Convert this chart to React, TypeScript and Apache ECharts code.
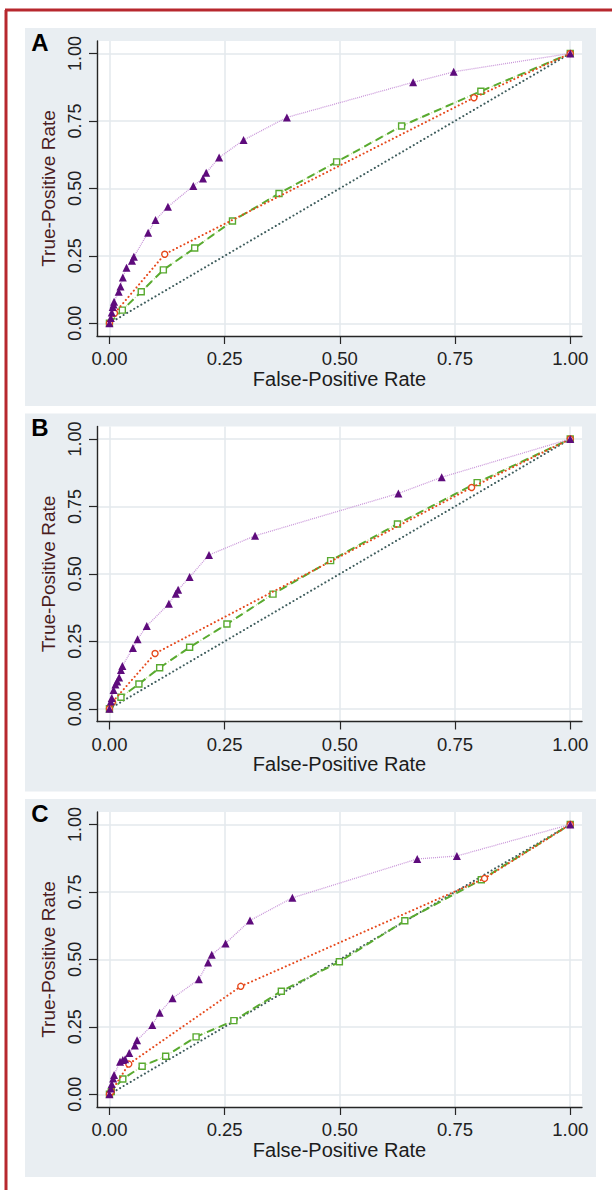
import React, { useEffect, useRef } from "react";
import * as echarts from "echarts";

// ---------- data ----------
const TICKS = [0, 0.25, 0.5, 0.75, 1];
const PANEL_LETTERS = ["A", "B", "C"];
const X_TITLE = "False-Positive Rate";
const Y_TITLE = "True-Positive Rate";
const DIAGONAL = [[0, 0], [1, 1]];

const A_PURPLE = [[0,0],[0.003,0.02],[0.005,0.04],[0.007,0.06],[0.009,0.07],[0.01,0.08],[0.02,0.117],[0.024,0.136],[0.029,0.17],[0.037,0.206],[0.049,0.232],[0.053,0.247],[0.084,0.336],[0.1,0.383],[0.127,0.432],[0.182,0.509],[0.203,0.537],[0.21,0.558],[0.238,0.614],[0.291,0.679],[0.385,0.763],[0.659,0.893],[0.747,0.932],[1,1]];
const A_ORANGE = [[0,0],[0.011,0.037],[0.12,0.256],[0.791,0.836],[1,1]];
const A_GREEN = [[0,0],[0.028,0.049],[0.069,0.117],[0.117,0.198],[0.185,0.279],[0.267,0.379],[0.368,0.481],[0.493,0.598],[0.634,0.731],[0.806,0.86],[1,1]];

const B_PURPLE = [[0,0],[0.003,0.027],[0.005,0.04],[0.009,0.07],[0.013,0.09],[0.017,0.101],[0.021,0.116],[0.025,0.144],[0.028,0.159],[0.051,0.225],[0.061,0.258],[0.081,0.307],[0.129,0.389],[0.144,0.426],[0.149,0.441],[0.174,0.488],[0.216,0.57],[0.316,0.641],[0.627,0.798],[0.721,0.858],[1,1]];
const B_ORANGE = [[0,0],[0.0065,0.025],[0.099,0.205],[0.786,0.82],[1,1]];
const B_GREEN = [[0,0],[0.025,0.043],[0.064,0.092],[0.109,0.152],[0.174,0.228],[0.255,0.314],[0.355,0.425],[0.48,0.549],[0.625,0.685],[0.798,0.838],[1,1]];

const C_PURPLE = [[0,0],[0.003,0.022],[0.005,0.038],[0.008,0.059],[0.01,0.072],[0.023,0.121],[0.029,0.127],[0.034,0.13],[0.043,0.153],[0.055,0.181],[0.06,0.2],[0.093,0.257],[0.109,0.302],[0.137,0.356],[0.194,0.426],[0.214,0.488],[0.222,0.517],[0.252,0.559],[0.305,0.644],[0.397,0.728],[0.668,0.872],[0.754,0.883],[1,1]];
const C_ORANGE = [[0,0],[0.004,0.01],[0.042,0.112],[0.285,0.4],[0.814,0.8],[1,1]];
const C_GREEN = [[0,0],[0.004,0.01],[0.029,0.057],[0.071,0.104],[0.122,0.141],[0.188,0.213],[0.27,0.273],[0.373,0.382],[0.499,0.491],[0.641,0.643],[0.807,0.795],[1,1]];

const PURPLE_SETS = [A_PURPLE, B_PURPLE, C_PURPLE];
const ORANGE_SETS = [A_ORANGE, B_ORANGE, C_ORANGE];
const GREEN_SETS = [A_GREEN, B_GREEN, C_GREEN];

// ---------- styling / layout ----------
const W = 612;
const H = 1190;
const STEP = 385.5;
const FONT = "Liberation Sans, Arial, Helvetica, sans-serif";
const PANEL_BG = "#e9eef2";
const GRID_LINE = "#e3e9ed";
const AXIS_COLOR = "#262626";
const RED = "#b7282e";
const PURPLE_MARK = "#5e0b7c";
const PURPLE_LINE = "#c996d9";
const ORANGE = "#e6491c";
const GREEN = "#59aa30";
const GREEN_LIGHT = "#b9e28f";
const DIAG = "#3f5d5d";

function buildOption() {
  const grids: any[] = [];
  const xAxes: any[] = [];
  const yAxes: any[] = [];
  const series: any[] = [];
  const graphics: any[] = [];

  PANEL_LETTERS.forEach((letter, i) => {
    const off = i * STEP;
    graphics.push({
      type: "rect",
      z: -10,
      silent: true,
      shape: { x: 25, y: 28 + off, width: 571, height: 378 },
      style: { fill: PANEL_BG },
    });
    graphics.push({
      type: "text",
      z: 10,
      x: 40,
      y: 42 + off,
      style: {
        text: letter,
        fontFamily: FONT,
        fontWeight: "bold",
        fontSize: 24,
        fill: "#000",
        textAlign: "center",
        textVerticalAlign: "middle",
      },
    });

    grids.push({
      left: 97,
      top: 41 + off,
      width: 485,
      height: 295,
      show: true,
      backgroundColor: "#ffffff",
      borderWidth: 0,
      containLabel: false,
    });

    xAxes.push({
      type: "value",
      gridIndex: i,
      min: -0.027,
      max: 1.0255,
      name: X_TITLE,
      nameLocation: "middle",
      nameGap: 31,
      nameTextStyle: { fontFamily: FONT, fontSize: 20, color: "#1c1c1c" },
      axisLine: { show: true, onZero: false, lineStyle: { color: AXIS_COLOR, width: 1.4 } },
      axisTick: { show: true, inside: false, length: 8, customValues: TICKS, lineStyle: { color: AXIS_COLOR, width: 1.2 } },
      axisLabel: {
        show: true,
        customValues: TICKS,
        margin: 13,
        fontFamily: FONT,
        fontSize: 18.5,
        color: "#222",
        formatter: (v: number) => v.toFixed(2),
      },
      splitLine: { show: true, lineStyle: { color: GRID_LINE, width: 1.5 } },
    });

    yAxes.push({
      type: "value",
      gridIndex: i,
      min: -0.047,
      max: 1.046,
      name: Y_TITLE,
      nameLocation: "middle",
      nameGap: 30,
      nameTextStyle: { fontFamily: FONT, fontSize: 19, color: "#4a1c1e" },
      axisLine: { show: true, onZero: false, lineStyle: { color: AXIS_COLOR, width: 1.4 } },
      axisTick: { show: true, inside: false, length: 8, customValues: TICKS, lineStyle: { color: AXIS_COLOR, width: 1.2 } },
      axisLabel: {
        show: true,
        customValues: TICKS,
        rotate: 90,
        margin: 13,
        fontFamily: FONT,
        fontSize: 18,
        color: "#222",
        formatter: (v: number) => v.toFixed(2),
      },
      splitLine: { show: true, lineStyle: { color: GRID_LINE, width: 1.5 } },
    });

    // reference diagonal
    series.push({
      type: "line",
      xAxisIndex: i,
      yAxisIndex: i,
      data: DIAGONAL,
      showSymbol: false,
      z: 2,
      lineStyle: { color: DIAG, width: 2, type: [0.1, 4], cap: "round" },
    });
    // green: light dotted underlay
    series.push({
      type: "line",
      xAxisIndex: i,
      yAxisIndex: i,
      data: GREEN_SETS[i],
      showSymbol: false,
      z: 3,
      lineStyle: { color: GREEN_LIGHT, width: 1.3, type: [1, 2] },
    });
    // green dashed with hollow squares
    series.push({
      type: "line",
      xAxisIndex: i,
      yAxisIndex: i,
      data: GREEN_SETS[i],
      symbol: "rect",
      symbolSize: 6,
      showSymbol: true,
      showAllSymbol: true,
      z: 4,
      lineStyle: { color: GREEN, width: 2, type: [8, 5] },
      itemStyle: { color: "#ffffff", borderColor: GREEN, borderWidth: 1.4 },
    });
    // orange dotted with hollow circles
    series.push({
      type: "line",
      xAxisIndex: i,
      yAxisIndex: i,
      data: ORANGE_SETS[i],
      symbol: "circle",
      symbolSize: 6,
      showSymbol: true,
      showAllSymbol: true,
      z: 5,
      lineStyle: { color: ORANGE, width: 2, type: [0.1, 4], cap: "round" },
      itemStyle: { color: "#ffffff", borderColor: ORANGE, borderWidth: 1.4 },
    });
    // purple triangles
    series.push({
      type: "line",
      xAxisIndex: i,
      yAxisIndex: i,
      data: PURPLE_SETS[i],
      symbol: "triangle",
      symbolSize: 8,
      showSymbol: true,
      showAllSymbol: true,
      z: 6,
      lineStyle: { color: PURPLE_LINE, width: 1.3, type: [1, 1] },
      itemStyle: { color: PURPLE_MARK },
    });
  });

  // red frame (top and left)
  graphics.push({
    type: "line",
    z: 100,
    shape: { x1: 5, y1: 10, x2: W, y2: 10 },
    style: { stroke: RED, lineWidth: 3 },
  });
  graphics.push({
    type: "line",
    z: 100,
    shape: { x1: 6, y1: 10, x2: 6, y2: H },
    style: { stroke: RED, lineWidth: 3 },
  });

  return {
    animation: false,
    backgroundColor: "#ffffff",
    textStyle: { fontFamily: FONT },
    grid: grids,
    xAxis: xAxes,
    yAxis: yAxes,
    series,
    graphic: graphics,
  };
}

export default function App() {
  const ref = useRef<HTMLDivElement>(null);
  useEffect(() => {
    if (!ref.current) return;
    const chart = echarts.init(ref.current, undefined, { renderer: "svg" });
    chart.setOption(buildOption() as any);
    return () => chart.dispose();
  }, []);
  return (
    <div
      ref={ref}
      style={{ position: "absolute", left: 0, top: 0, width: W, height: H }}
    />
  );
}
